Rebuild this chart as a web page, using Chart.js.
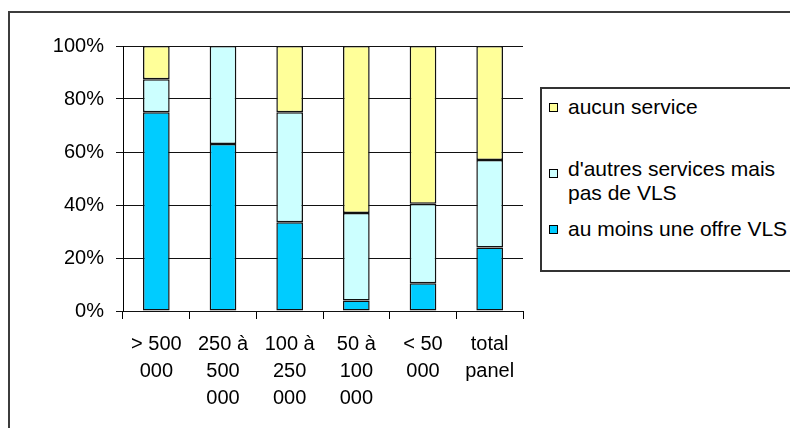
<!DOCTYPE html>
<html lang="fr">
<head>
<meta charset="utf-8">
<title>Services de mobilité par taille de ville</title>
<script src="https://cdn.jsdelivr.net/npm/chart.js@4.4.1/dist/chart.umd.min.js"></script>
<style>
  html, body {
    margin: 0;
    padding: 0;
    background: #fff;
    overflow: hidden;
  }
  #wrap {
    position: relative;
    width: 790px;
    height: 428px;
    overflow: hidden;
    font-family: "Liberation Sans", Arial, sans-serif;
  }
  #frame {
    position: absolute;
    left: 8px;
    top: 11px;
    width: 900px;
    height: 500px;
    border: 2px solid #3c3c3c;
  }
  #chart {
    position: absolute;
    left: 0;
    top: 0;
  }
  #legend {
    position: absolute;
    left: 540px;
    top: 87px;
    width: 300px;
    height: 181px;
    border: 2px solid #333;
    background: #fff;
    box-sizing: content-box;
  }
  .item {
    position: relative;
    padding-left: 26px;
    font-size: 21px;
    line-height: 24px;
    color: #000;
    width: 226px;
  }
  .item .box {
    position: absolute;
    left: 7px;
    width: 7px;
    height: 7px;
    border: 1px solid #000;
  }
</style>
</head>
<body>
<div id="wrap">
  <div id="frame"></div>
  <canvas id="chart" width="790" height="428"></canvas>
  <div id="legend"></div>
</div>

<script>
// Catégories (taille des villes) et parts en %
const categories = [
  ['> 500', '000'],
  ['250 à', '500', '000'],
  ['100 à', '250', '000'],
  ['50 à', '100', '000'],
  ['< 50', '000'],
  ['total', 'panel']
];

const offreVLS      = [75, 63, 33.5, 4, 10.5, 24];
const autresSansVLS = [12.5, 37, 41.5, 33, 30, 33];
const aucunService  = [12.5, 0, 25, 63, 59.5, 43];

const yTicks = [0, 20, 40, 60, 80, 100];

const seriesNames = ['au moins une offre VLS', "d'autres services mais pas de VLS", 'aucun service'];
const seriesColors = ['#00CCFF', '#CCFFFF', '#FFFF99'];

const FONT = '"Liberation Sans", Arial, sans-serif';

const datasets = [offreVLS, autresSansVLS, aucunService].map((values, i) => ({
  label: seriesNames[i],
  data: values,
  backgroundColor: seriesColors[i],
  borderColor: '#111',
  borderWidth: 1.5,
  borderSkipped: false,
  categoryPercentage: 1,
  barPercentage: 0.4
}));

const chart = new Chart(document.getElementById('chart'), {
  type: 'bar',
  data: { labels: categories, datasets },
  options: {
    responsive: false,
    animation: false,
    layout: { padding: { top: 46, right: 267, left: 0, bottom: 0 } },
    plugins: {
      legend: { display: false },
      tooltip: { enabled: false }
    },
    scales: {
      x: {
        stacked: true,
        grid: {
          offset: true,
          drawOnChartArea: false,
          color: '#000',
          tickLength: 8
        },
        border: { display: false },
        ticks: {
          color: '#000',
          padding: 12,
          maxRotation: 0,
          font: { family: FONT, size: 20, lineHeight: 1.35 }
        },
        afterFit(scale) { scale.height = 117; }
      },
      y: {
        stacked: true,
        min: 0,
        max: 100,
        afterBuildTicks(scale) {
          scale.ticks = yTicks.map(v => ({ value: v }));
        },
        grid: { color: '#111', tickLength: 7 },
        border: { display: true, color: '#000', width: 1 },
        ticks: {
          color: '#000',
          padding: 12,
          font: { family: FONT, size: 20 },
          callback: v => v + '%'
        },
        afterFit(scale) { scale.width = 123; }
      }
    }
  }
});

// Légende HTML (ordre inversé, comme l'empilement)
function buildLegend() {
  const legend = document.getElementById('legend');
  const tops = [6, 38, 12];
  const order = [2, 1, 0];
  order.forEach((idx, n) => {
    const ds = chart.data.datasets[idx];
    const item = document.createElement('div');
    item.className = 'item';
    item.style.marginTop = tops[n] + 'px';
    const box = document.createElement('span');
    box.className = 'box';
    box.style.background = ds.backgroundColor;
    box.style.top = (idx === 1 ? 12 : 8) + 'px';
    item.appendChild(box);
    item.appendChild(document.createTextNode(ds.label));
    legend.appendChild(item);
  });
}

buildLegend();
</script>
</body>
</html>
